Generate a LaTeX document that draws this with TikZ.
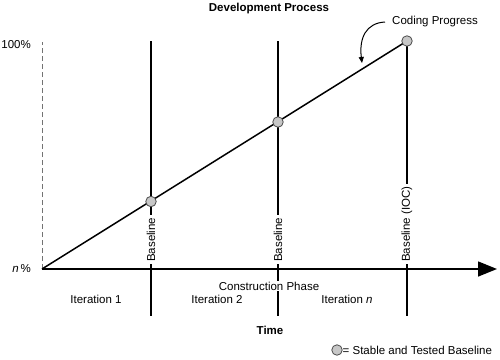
\documentclass[tikz,border=0pt]{standalone}
\usepackage{fontspec}
\setmainfont{Liberation Sans}
\usetikzlibrary{arrows.meta}
\begin{document}
\begin{tikzpicture}[x=1pt,y=-1pt,
  every node/.style={font=\fontsize{11.5}{13}\selectfont, inner sep=1pt},
  mainline/.style={line width=1.5pt, black},
  dashline/.style={line width=1pt, black!55, dash pattern=on 5pt off 3pt},
  basept/.style={circle, draw=black!70, fill=black!22, line width=0.8pt, minimum size=10.5pt, inner sep=0pt},
  vlabel/.style={rotate=90, anchor=west, fill=white, inner xsep=2.5pt, inner ysep=0.5pt},
  txt/.style={inner sep=1pt}]
\useasboundingbox (0,0) rectangle (500,359);
% coordinates
\coordinate (origin) at (42,269);
\coordinate (dtop) at (42,42);
\coordinate (axend) at (497,269);
\coordinate (t1) at (151,41);
\coordinate (b1) at (151,316);
\coordinate (t2) at (278,41);
\coordinate (b2) at (278,316);
\coordinate (b3) at (407,316);
% title
\node[font=\bfseries\fontsize{11.5}{13}\selectfont] (title) at (269,9) {Development Process};
% dashed y axis
\draw[dashline] (origin) -- (dtop);
% vertical lines
\draw[mainline] (t1) -- (b1);
\draw[mainline] (t2) -- (b2);
\draw[mainline] (407,41) -- (b3);
% progress line
\draw[mainline] (origin) -- (407,41);
% time axis
\draw[mainline, -{Triangle[length=19pt,width=15pt]}] (origin) -- (axend);
% baseline labels
\node[vlabel] (l1) at (151,264.5) {Baseline};
\node[vlabel] (l2) at (278,264.5) {Baseline};
\node[vlabel] (l3) at (407,264.5) {Baseline (IOC)};
% baseline points
\node[basept] (p1) at (151,201.5) {};
\node[basept] (p2) at (278,122) {};
\node[basept] (p3) at (407,41) {};
% y labels
\node[anchor=east] (hundred) at (32,45) {100\%};
\node[anchor=east] (npct) at (32,269) {{\itshape n}\,\%};
% phase and iterations
\node[fill=white] (phase) at (269,286) {Construction Phase};
\node (it1) at (96,299.5) {Iteration 1};
\node (it2) at (217,299.5) {Iteration 2};
\node (itn) at (347,299.5) {Iteration {\itshape n}};
\node[font=\bfseries\fontsize{11.5}{13}\selectfont] (time) at (270,330) {Time};
% coding progress
\node[anchor=west] (cp) at (391,22) {Coding Progress};
\coordinate (cptip) at (362,63);
\draw[line width=1pt, -{Triangle[length=6pt,width=5pt]}] ([xshift=-6pt]cp.west) .. controls (366,23) and (359,38) .. (cptip);
% legend
\node[basept] (lg) at (337,350) {};
\node[anchor=west, inner sep=0pt] (lgtxt) at (342.5,350) {= Stable and Tested Baseline};
\end{tikzpicture}
\end{document}
